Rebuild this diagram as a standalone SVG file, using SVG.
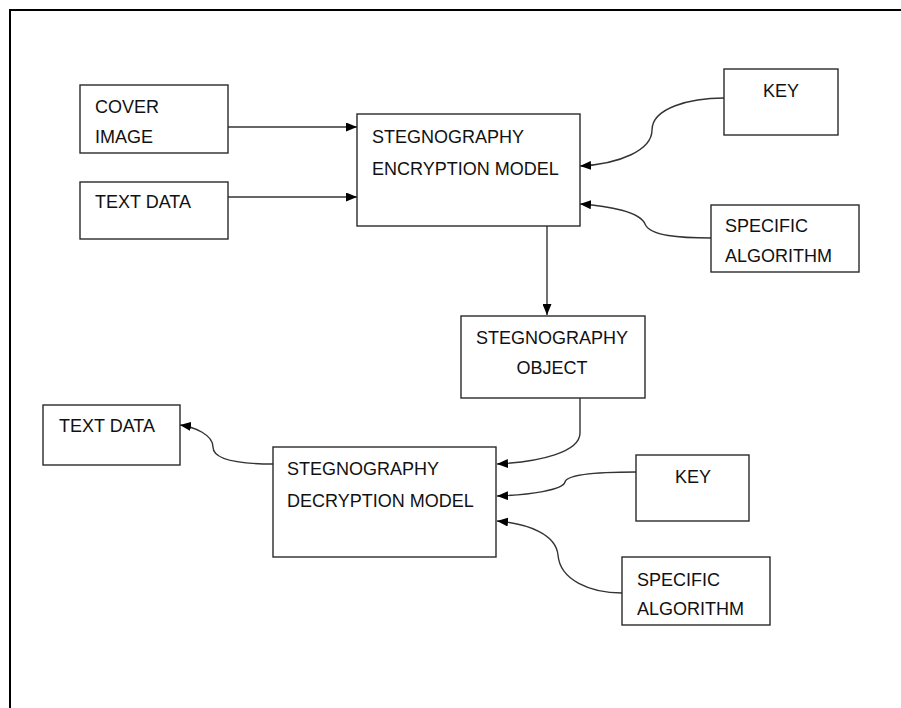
<svg xmlns="http://www.w3.org/2000/svg" width="901" height="708" viewBox="0 0 901 708">
<defs>
<marker id="ah" markerWidth="11" markerHeight="9" refX="11" refY="4.5" orient="auto" markerUnits="userSpaceOnUse">
<path d="M0,0 L11,4.5 L0,9 z" fill="#000"/>
</marker>
<style>
.box{fill:#fff;stroke:#2a2a2a;stroke-width:1.4}
.t{font-family:"Liberation Sans",Arial,sans-serif;font-size:18px;fill:#111}
.c{fill:none;stroke:#333;stroke-width:1.4;marker-end:url(#ah)}
</style>
</defs>
<rect width="901" height="708" fill="#fff"/>
<path d="M10,708 L10,10 L901,10" fill="none" stroke="#000" stroke-width="2"/>
<g id="connectors">
<path class="c" d="M228,127 L357,127"/>
<path class="c" d="M228,197 L357,197"/>
<path class="c" d="M724,98 C690,98 652,108 652,130 C652,150 620,164 580,166"/>
<path class="c" d="M711,238 C680,238 650,236 645,224 C640,212 610,206 580,204"/>
<path class="c" d="M547,226 L547,315"/>
<path class="c" d="M580,398 L580,433 C580,452 540,462 497,464"/>
<path class="c" d="M636,472 C600,472 567,474 565,482 C563,490 530,495 497,496"/>
<path class="c" d="M622,593 C590,593 560,580 558,555 C556,535 530,524 497,521"/>
<path class="c" d="M273,464 C240,464 213,460 213,447 C213,435 195,427 180,425"/>
</g>
<g id="cover-image">
<rect class="box" x="80" y="85" width="148" height="68"/>
<text class="t" x="95" y="113">COVER</text>
<text class="t" x="95" y="143">IMAGE</text>
</g>
<g id="text-data-in">
<rect class="box" x="80" y="182" width="148" height="57"/>
<text class="t" x="95" y="208">TEXT DATA</text>
</g>
<g id="encryption-model">
<rect class="box" x="357" y="114" width="223" height="112"/>
<text class="t" x="372" y="143">STEGNOGRAPHY</text>
<text class="t" x="372" y="175">ENCRYPTION MODEL</text>
</g>
<g id="key-1">
<rect class="box" x="724" y="69" width="114" height="66"/>
<text class="t" x="763" y="97">KEY</text>
</g>
<g id="algorithm-1">
<rect class="box" x="711" y="205" width="148" height="67"/>
<text class="t" x="725" y="232">SPECIFIC</text>
<text class="t" x="725" y="262">ALGORITHM</text>
</g>
<g id="stego-object">
<rect class="box" x="461" y="316" width="184" height="82"/>
<text class="t" x="552" y="344" text-anchor="middle">STEGNOGRAPHY</text>
<text class="t" x="552" y="374" text-anchor="middle">OBJECT</text>
</g>
<g id="decryption-model">
<rect class="box" x="273" y="447" width="223" height="110"/>
<text class="t" x="287" y="475">STEGNOGRAPHY</text>
<text class="t" x="287" y="507">DECRYPTION MODEL</text>
</g>
<g id="key-2">
<rect class="box" x="636" y="455" width="113" height="66"/>
<text class="t" x="675" y="483">KEY</text>
</g>
<g id="algorithm-2">
<rect class="box" x="622" y="557" width="148" height="68"/>
<text class="t" x="637" y="586">SPECIFIC</text>
<text class="t" x="637" y="615">ALGORITHM</text>
</g>
<g id="text-data-out">
<rect class="box" x="43" y="405" width="137" height="60"/>
<text class="t" x="59" y="432">TEXT DATA</text>
</g>
</svg>
